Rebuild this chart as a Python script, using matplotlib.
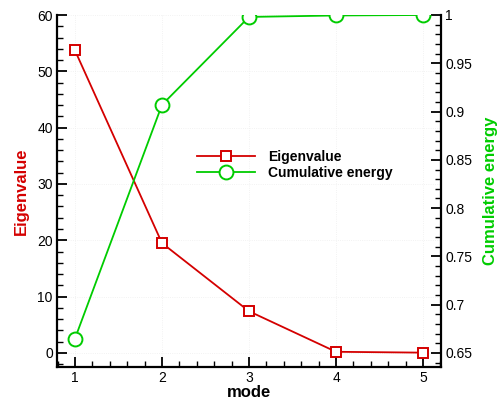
import matplotlib
matplotlib.use("Agg")
import matplotlib.pyplot as plt
from matplotlib.ticker import MultipleLocator, FuncFormatter

plt.rcParams['font.family'] = ['Liberation Sans', 'DejaVu Sans']

modes = [1, 2, 3, 4, 5]
eigenvalues = [53.7, 19.5, 7.4, 0.2, 0.05]
cumulative = [0.665, 0.907, 0.998, 0.9995, 1.0]

red = '#d40000'
green = '#00cc00'

fig = plt.figure(figsize=(4.99, 4.00), dpi=100)
ax = fig.add_axes([0.1142, 0.0825, 0.7696, 0.88])
ax2 = ax.twinx()

l1, = ax.plot(modes, eigenvalues, color=red, lw=1.3, marker='s', ms=7.5,
              mfc='white', mec=red, mew=1.4, label='Eigenvalue', zorder=3)
l2, = ax2.plot(modes, cumulative, color=green, lw=1.3, marker='o', ms=10,
               mfc='white', mec=green, mew=1.4, label='Cumulative energy', zorder=3)

ax.set_xlim(0.793, 5.207)
ax.set_ylim(-2.5, 60)
ax2.set_ylim(0.6355, 1.0)

ax.xaxis.set_major_locator(MultipleLocator(1))
ax.xaxis.set_minor_locator(MultipleLocator(0.2))
ax.yaxis.set_major_locator(MultipleLocator(10))
ax.yaxis.set_minor_locator(MultipleLocator(2))
ax2.yaxis.set_major_locator(MultipleLocator(0.05))
ax2.yaxis.set_minor_locator(MultipleLocator(0.01))
ax2.yaxis.set_major_formatter(FuncFormatter(lambda v, p: ('%g' % round(v, 2))))

for a in (ax, ax2):
    a.spines['top'].set_visible(False)
    for s in a.spines.values():
        s.set_linewidth(1.6)
ax.spines['right'].set_visible(False)
ax2.spines['left'].set_visible(False)
ax2.spines['bottom'].set_visible(False)

ax.tick_params(axis='both', which='major', direction='in', length=7, width=1.3,
               labelsize=10, pad=3)
ax.tick_params(axis='both', which='minor', direction='in', length=4.5, width=1.0)
ax.tick_params(top=False, which='both')
ax.tick_params(axis='y', right=False, which='both')
ax2.tick_params(axis='y', which='major', direction='in', length=7, width=1.3,
                labelsize=10, pad=3)
ax2.tick_params(axis='y', which='minor', direction='in', length=4.5, width=1.0)

ax.grid(True, which='major', color='#eeeeee', lw=0.6, ls=':')

ax.set_xlabel('mode', fontsize=12, fontweight='bold', labelpad=0)
ax.set_ylabel('Eigenvalue', fontsize=12, fontweight='bold', color=red, labelpad=6)
ax2.set_ylabel('Cumulative energy', fontsize=12, fontweight='bold', color=green,
               rotation=90, labelpad=8)

leg = ax.legend(handles=[l1, l2], loc='center left', bbox_to_anchor=(0.365, 0.574),
                frameon=False, fontsize=10, handlelength=4.2, handletextpad=0.9,
                labelspacing=0.2, borderaxespad=0, borderpad=0)
for t in leg.get_texts():
    t.set_fontweight('bold')

fig.savefig('out.png', dpi=100)
